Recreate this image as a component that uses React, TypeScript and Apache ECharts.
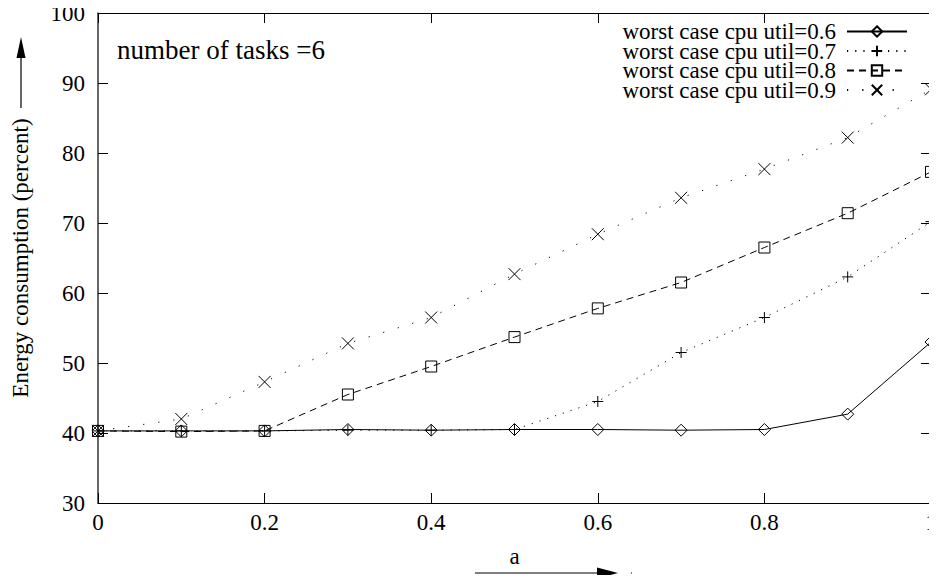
import React, { useEffect, useRef } from "react";
import * as echarts from "echarts";

// x values (a) shared by every series
const aValues = [0, 0.1, 0.2, 0.3, 0.4, 0.5, 0.6, 0.7, 0.8, 0.9, 1.0];

// energy consumption (percent) per worst case cpu utilisation
const util06 = [40.3, 40.3, 40.3, 40.5, 40.4, 40.5, 40.5, 40.4, 40.5, 42.7, 53.0];
const util07 = [40.3, 40.3, 40.3, 40.4, 40.4, 40.5, 44.5, 51.5, 56.5, 62.3, 70.2];
const util08 = [40.3, 40.2, 40.3, 45.5, 49.5, 53.7, 57.8, 61.5, 66.5, 71.4, 77.3];
const util09 = [40.3, 42.0, 47.3, 52.8, 56.5, 62.7, 68.4, 73.6, 77.7, 82.2, 89.1];

const seriesNames = [
  "worst case cpu util=0.6",
  "worst case cpu util=0.7",
  "worst case cpu util=0.8",
  "worst case cpu util=0.9",
];

const FONT = "Liberation Serif";

const SYM_DIAMOND = "path://M5,0 L10,5 L5,10 L0,5 Z";
const SYM_PLUS = "path://M5,0 L5,10 M0,5 L10,5";
const SYM_SQUARE = "path://M0,0 L10,0 L10,10 L0,10 Z";
const SYM_CROSS = "path://M0,0 L10,10 M10,0 L0,10";

function pairs(ys: number[]) {
  return aValues.map((x, i) => [x, ys[i]]);
}

function lineSeries(
  name: string,
  ys: number[],
  symbol: string,
  size: number,
  type: any
) {
  return {
    name,
    type: "line",
    data: pairs(ys),
    symbol,
    symbolSize: size,
    showAllSymbol: true,
    silent: true,
    itemStyle: { color: "transparent", borderColor: "#000", borderWidth: 1 },
    lineStyle: { color: "#000", width: 1, type },
    emphasis: { disabled: true },
  };
}

export default function App() {
  const ref = useRef<HTMLDivElement>(null);

  useEffect(() => {
    if (!ref.current) return;
    const chart = echarts.init(ref.current, undefined, { renderer: "svg" });

    const axisLabelStyle = { color: "#000", fontFamily: FONT, fontSize: 23 };

    chart.setOption({
      animation: false,
      backgroundColor: "#fff",
      grid: {
        left: 98,
        right: 6,
        top: 13,
        bottom: 80,
        containLabel: false,
        outerBoundsMode: "none",
      },
      legend: {
        orient: "vertical",
        right: 29,
        top: 20,
        align: "right",
        padding: 0,
        itemGap: -3.5,
        itemWidth: 60,
        itemHeight: 13,
        selectedMode: false,
        data: seriesNames,
        textStyle: {
          color: "#000",
          fontFamily: FONT,
          fontSize: 23,
          padding: [0, 6, 0, 0],
        },
      },
      xAxis: [
        {
          type: "value",
          min: 0,
          max: 1,
          interval: 0.2,
          name: "a",
          nameLocation: "middle",
          nameGap: 42,
          nameTextStyle: { color: "#000", fontFamily: FONT, fontSize: 23 },
          axisLine: { show: true, lineStyle: { color: "#000", width: 1 } },
          axisTick: { show: true, inside: true, length: 10, lineStyle: { color: "#000" } },
          axisLabel: { ...axisLabelStyle, margin: 8, showMaxLabel: true },
          splitLine: { show: false },
        },
        {
          type: "value",
          position: "top",
          min: 0,
          max: 1,
          interval: 0.2,
          axisLine: { show: true, onZero: false, lineStyle: { color: "#000", width: 1 } },
          axisTick: { show: true, inside: true, length: 10, lineStyle: { color: "#000" } },
          axisLabel: { show: false },
          splitLine: { show: false },
        },
      ],
      yAxis: [
        {
          type: "value",
          min: 30,
          max: 100,
          interval: 10,
          name: "Energy consumption (percent)",
          nameLocation: "middle",
          nameGap: 66,
          nameRotate: 90,
          nameTextStyle: { color: "#000", fontFamily: FONT, fontSize: 23 },
          axisLine: { show: true, lineStyle: { color: "#333", width: 1.5 } },
          axisTick: { show: true, inside: true, length: 10, lineStyle: { color: "#000" } },
          axisLabel: { ...axisLabelStyle, margin: 13 },
          splitLine: { show: false },
        },
        {
          type: "value",
          position: "right",
          min: 30,
          max: 100,
          interval: 10,
          axisLine: { show: true, onZero: false, lineStyle: { color: "#000", width: 1 } },
          axisTick: { show: true, inside: true, length: 10, lineStyle: { color: "#000" } },
          axisLabel: { show: false },
          splitLine: { show: false },
        },
      ],
      graphic: [
        {
          type: "text",
          left: 117,
          top: 36,
          style: {
            text: "number of tasks =6",
            fill: "#000",
            fontFamily: FONT,
            fontSize: 27,
          },
        },
        // arrow beside the y-axis title
        {
          type: "line",
          shape: { x1: 21, y1: 108, x2: 21, y2: 56 },
          style: { stroke: "#000", lineWidth: 1.2 },
        },
        {
          type: "polygon",
          shape: { points: [[21, 37], [16.5, 58], [25.5, 58]] },
          style: { fill: "#000" },
        },
        // arrow below the x-axis title
        {
          type: "line",
          shape: { x1: 475, y1: 573, x2: 600, y2: 573 },
          style: { stroke: "#000", lineWidth: 1.2 },
        },
        {
          type: "polygon",
          shape: { points: [[618, 573], [597, 567.5], [597, 578.5]] },
          style: { fill: "#000" },
        },
        {
          type: "rect",
          shape: { x: 631, y: 572.5, width: 1, height: 1 },
          style: { fill: "#000" },
        },
      ],
      series: [
        lineSeries(seriesNames[0], util06, SYM_DIAMOND, 12, "solid"),
        lineSeries(seriesNames[1], util07, SYM_PLUS, 11, [1.2, 7]),
        lineSeries(seriesNames[2], util08, SYM_SQUARE, 11, [7, 5]),
        lineSeries(seriesNames[3], util09, SYM_CROSS, 12, [1.2, 14]),
      ],
    });

    return () => chart.dispose();
  }, []);

  return <div ref={ref} style={{ width: 937, height: 583, margin: -8 }} />;
}
